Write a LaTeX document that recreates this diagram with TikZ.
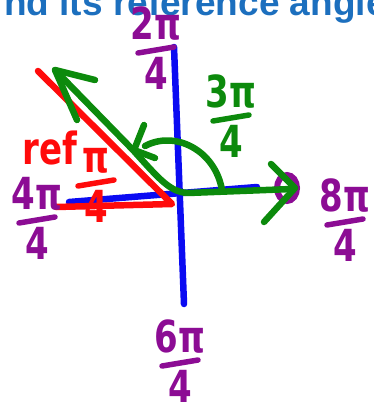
\documentclass[tikz,border=0pt]{standalone}
\usepackage{fontspec}
\usepackage{graphicx}
\setmainfont{DejaVu Sans}
\newfontfamily\headfont{Liberation Sans}
\usetikzlibrary{calc}

\definecolor{inkBlue}{HTML}{0B0BF2}
\definecolor{inkRed}{HTML}{FF0B0B}
\definecolor{inkGreen}{HTML}{0C8A0C}
\definecolor{inkPurple}{HTML}{8C0C94}
\definecolor{headBlue}{HTML}{1C6FBE}

\newcommand{\tall}[1]{\scalebox{1}[1.3]{#1}}

\tikzset{
  pen/.style       ={line width=6.5pt,line cap=round,line join=round},
  axisline/.style  ={pen,inkBlue},
  redline/.style   ={pen,inkRed},
  greenline/.style ={pen,inkGreen},
  barline/.style   ={pen,line width=5.5pt},
  lbl/.style       ={font=\fontsize{34}{34}\selectfont\bfseries,inner sep=0pt},
  head/.style      ={font=\fontsize{37}{37}\selectfont\headfont\bfseries,
                     text=headBlue,inner sep=0pt},
}

\begin{document}
\begin{tikzpicture}[x=1pt,y=-1pt]
\useasboundingbox (0,0) rectangle (373,415);
\clip (0,0) rectangle (373,415);
% #1 name, #2 x, #3 y of the bar, #4 numerator, #5 denominator, #6 colour
\newcommand{\handfrac}[6]{
  \node[lbl,text=#6,anchor=south] (#1n) at (#2,#3-9) {\tall{#4}};
  \node[lbl,text=#6,anchor=north] (#1d) at (#2,#3+7) {\tall{#5}};
  \draw[barline,#6] (#2-18,#3+3) -- (#2+18,#3-3);}

\node[head,anchor=base west] (title) at (4,15) {nd its reference angle};

% axes
\coordinate (ytop) at (174,47);
\coordinate (ybot) at (184,304);
\coordinate (xleft) at (69,202);
\coordinate (xright) at (257,187);
\draw[axisline] (ytop) -- (ybot);
\draw[axisline] (xleft) -- (xright);

\draw[inkPurple,line width=6pt] (287,188) ellipse [x radius=10pt,y radius=13pt];

% reference triangle
\coordinate (rtop) at (38,71);
\coordinate (rcorner) at (172,204);
\coordinate (rleft) at (56,207);
\draw[redline] (rtop) -- (rcorner) -- (rleft);

% angle 3pi/4
\coordinate (gtip) at (55,70);
\coordinate (gbend) at (133,150);
\coordinate (gorigin) at (188,193);
\coordinate (gend) at (292,189);
\draw[greenline] (gtip) -- (gbend) .. controls (160,180) and (170,192) .. (gorigin) -- (gend);
\draw[greenline] (95,80) -- (gtip) -- (77,120);
\draw[greenline] (271,164) -- (295,188) -- (264,222);
\coordinate (astart) at (145,146);
\coordinate (aend) at (222,190);
\draw[greenline] (astart) .. controls (175,130) and (215,150) .. (aend);
\draw[greenline] (144,125) -- (134,150) -- (155,158);

% labels
\node[lbl,text=inkRed] (reflbl) at (50,148) {\tall{ref}};
\handfrac{rf}{96}{183}{π}{4}{inkRed}
\handfrac{ang}{231}{118}{3π}{4}{inkGreen}
\handfrac{up}{156}{50}{2π}{4}{inkPurple}
\handfrac{lt}{37}{220}{4π}{4}{inkPurple}
\handfrac{rt}{345}{222}{8π}{4}{inkPurple}
\handfrac{dn}{180}{363}{6π}{4}{inkPurple}
\end{tikzpicture}
\end{document}
